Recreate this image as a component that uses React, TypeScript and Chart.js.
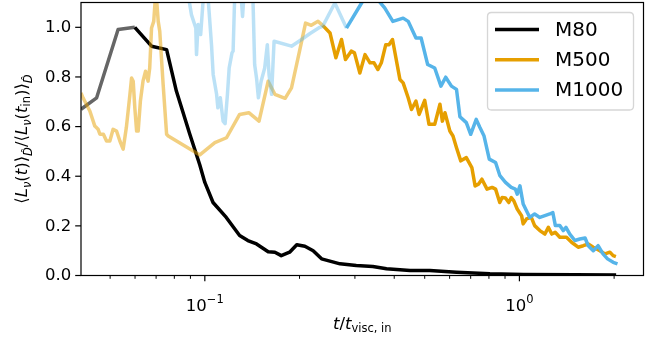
import React, { useEffect, useRef } from 'react';
import { Chart, registerables } from 'chart.js';
Chart.register(...registerables);

// ---------- data ----------
const m80T = [0.0404, 0.0453, 0.053, 0.0599, 0.0677, 0.0756, 0.0812, 0.0896, 0.0964, 0.1, 0.1062, 0.117, 0.129, 0.137, 0.146, 0.159, 0.167, 0.175, 0.186, 0.196, 0.208, 0.221, 0.235, 0.269, 0.303, 0.342, 0.378, 0.449, 0.519, 0.631, 0.806, 1.03, 1.5, 2.03];
const m80L = [0.67, 0.716, 0.991, 1.0, 0.924, 0.91, 0.743, 0.569, 0.445, 0.375, 0.294, 0.234, 0.161, 0.141, 0.127, 0.096, 0.094, 0.08, 0.094, 0.124, 0.118, 0.1, 0.067, 0.047, 0.04, 0.036, 0.027, 0.02, 0.02, 0.013, 0.007, 0.004, 0.003, 0.002];

const m500T = [0.0404, 0.041, 0.0431, 0.0447, 0.0458, 0.0464, 0.0476, 0.0487, 0.0499, 0.0511, 0.0524, 0.0537, 0.055, 0.0563, 0.0578, 0.0585, 0.0592, 0.0599, 0.0607, 0.0614, 0.0624, 0.0636, 0.0648, 0.066, 0.0668, 0.0677, 0.0688, 0.0699, 0.0711, 0.0719, 0.0737, 0.0756, 0.0765, 0.0964, 0.1076, 0.1172, 0.129, 0.138, 0.1487, 0.159, 0.167, 0.18, 0.1886, 0.2, 0.209, 0.218, 0.229, 0.237, 0.25, 0.261, 0.272, 0.28, 0.292, 0.299, 0.311, 0.323, 0.335, 0.345, 0.355, 0.364, 0.376, 0.385, 0.395, 0.417, 0.427, 0.443, 0.454, 0.469, 0.48, 0.5, 0.516, 0.538, 0.559, 0.569, 0.58, 0.601, 0.615, 0.631, 0.651, 0.678, 0.706, 0.723, 0.741, 0.76, 0.789, 0.819, 0.84, 0.866, 0.881, 0.903, 0.925, 0.942, 0.96, 0.984, 1.016, 1.028, 1.053, 1.091, 1.118, 1.161, 1.205, 1.236, 1.267, 1.299, 1.344, 1.411, 1.465, 1.537, 1.596, 1.655, 1.717, 1.802, 1.871, 1.939, 1.986, 2.026];
const m500L = [0.736, 0.716, 0.663, 0.602, 0.589, 0.569, 0.569, 0.542, 0.542, 0.589, 0.582, 0.542, 0.509, 0.596, 0.73, 0.796, 0.783, 0.676, 0.582, 0.582, 0.703, 0.783, 0.823, 0.783, 0.836, 0.997, 1.024, 1.15, 1.024, 0.984, 0.77, 0.569, 0.562, 0.486, 0.535, 0.555, 0.649, 0.656, 0.622, 0.783, 0.73, 0.714, 0.756, 0.904, 1.017, 1.008, 1.024, 1.008, 0.977, 0.877, 0.951, 0.87, 0.904, 0.897, 0.816, 0.89, 0.857, 0.857, 0.83, 0.857, 0.93, 0.93, 0.951, 0.79, 0.776, 0.716, 0.669, 0.703, 0.649, 0.706, 0.609, 0.609, 0.69, 0.622, 0.656, 0.582, 0.562, 0.515, 0.462, 0.475, 0.435, 0.361, 0.368, 0.388, 0.348, 0.355, 0.348, 0.294, 0.314, 0.312, 0.294, 0.314, 0.301, 0.268, 0.241, 0.208, 0.228, 0.234, 0.201, 0.181, 0.167, 0.194, 0.167, 0.174, 0.154, 0.154, 0.134, 0.114, 0.12, 0.127, 0.114, 0.1, 0.087, 0.094, 0.08, 0.076];

const m1000T = [0.088, 0.0907, 0.0936, 0.0941, 0.0952, 0.097, 0.0993, 0.102, 0.105, 0.1063, 0.109, 0.11, 0.112, 0.1143, 0.116, 0.118, 0.1195, 0.122, 0.123, 0.1246, 0.13, 0.1318, 0.1335, 0.142, 0.144, 0.146, 0.148, 0.151, 0.155, 0.158, 0.16, 0.163, 0.166, 0.1886, 0.203, 0.216, 0.232, 0.237, 0.259, 0.282, 0.315, 0.33, 0.35, 0.373, 0.396, 0.427, 0.443, 0.469, 0.487, 0.511, 0.538, 0.563, 0.583, 0.608, 0.631, 0.647, 0.678, 0.7, 0.729, 0.749, 0.772, 0.802, 0.84, 0.867, 0.903, 0.942, 0.971, 0.984, 1.004, 1.028, 1.053, 1.079, 1.118, 1.161, 1.205, 1.249, 1.277, 1.301, 1.344, 1.378, 1.406, 1.446, 1.501, 1.556, 1.617, 1.655, 1.717, 1.779, 1.844, 1.906, 1.986, 2.05];
const m1000L = [1.15, 1.05, 0.997, 0.89, 1.011, 0.971, 1.15, 1.15, 0.93, 0.81, 0.73, 0.676, 0.716, 0.622, 0.612, 0.73, 0.836, 0.897, 0.904, 1.15, 1.15, 1.044, 1.15, 1.15, 0.85, 0.796, 0.716, 0.783, 0.836, 0.93, 0.81, 0.73, 0.944, 0.924, 0.951, 0.975, 1.0, 1.004, 1.098, 0.997, 1.098, 1.13, 1.12, 1.078, 1.024, 1.037, 1.024, 0.957, 0.957, 0.85, 0.836, 0.763, 0.799, 0.763, 0.75, 0.64, 0.616, 0.569, 0.629, 0.596, 0.562, 0.469, 0.455, 0.402, 0.375, 0.355, 0.348, 0.328, 0.361, 0.288, 0.261, 0.234, 0.248, 0.234, 0.241, 0.248, 0.254, 0.201, 0.201, 0.181, 0.194, 0.167, 0.141, 0.147, 0.151, 0.12, 0.1, 0.12, 0.087, 0.067, 0.053, 0.047];

const seriesLabels = ['M80', 'M500', 'M1000'];
const m80FadeUntil = 0.0599;
const m500FadeUntil = 0.237;
const m1000FadeUntil = 0.282;

const yTicks = [0, 0.2, 0.4, 0.6, 0.8, 1.0];
const yTickLabels = ['0.0', '0.2', '0.4', '0.6', '0.8', '1.0'];
const xMajorTicks = [0.1, 1];
const xMajorExponents = ['\u22121', '0'];
const xMinorTicks = [0.05, 0.06, 0.07, 0.08, 0.09, 0.2, 0.3, 0.4, 0.5, 0.6, 0.7, 0.8, 0.9, 2];

// ---------- styles ----------
const FONT = '"DejaVu Sans", sans-serif';
const colors = ['#000000', '#E69F00', '#56B4E9'];
const faded = ['rgba(0,0,0,0.6)', 'rgba(230,159,0,0.5)', 'rgba(86,180,233,0.4)'];
const LW = 3.5;

type Seg = { s: string; it?: boolean; sz: number; dy: number };

function segFont(g: Seg) {
  return `${g.it ? 'italic ' : ''}${g.sz}px ${FONT}`;
}
function richWidth(ctx: CanvasRenderingContext2D, segs: Seg[]) {
  let w = 0;
  segs.forEach((g) => {
    ctx.font = segFont(g);
    w += ctx.measureText(g.s).width;
  });
  return w;
}
function drawRich(ctx: CanvasRenderingContext2D, segs: Seg[], cx: number, y: number) {
  const total = richWidth(ctx, segs);
  let x = cx - total / 2;
  ctx.textAlign = 'left';
  ctx.textBaseline = 'alphabetic';
  segs.forEach((g) => {
    ctx.font = segFont(g);
    ctx.fillText(g.s, x, y + g.dy);
    x += ctx.measureText(g.s).width;
  });
}

const M = 16.5;
const S = 11.5;
const SUB = 3.8;

const yTitle: Seg[] = [
  { s: '\u27E8', sz: M, dy: 0 },
  { s: 'L', it: true, sz: M, dy: 0 },
  { s: '\u03BD', it: true, sz: S, dy: SUB },
  { s: '(', sz: M, dy: 0 },
  { s: 't', it: true, sz: M, dy: 0 },
  { s: ')', sz: M, dy: 0 },
  { s: '\u27E9', sz: M, dy: 0 },
  { s: 'D\u0302', it: true, sz: S, dy: SUB + 1.5 },
  { s: '/', sz: M, dy: 0 },
  { s: '\u27E8', sz: M, dy: 0 },
  { s: 'L', it: true, sz: M, dy: 0 },
  { s: '\u03BD', it: true, sz: S, dy: SUB },
  { s: '(', sz: M, dy: 0 },
  { s: 't', it: true, sz: M, dy: 0 },
  { s: 'in', sz: S, dy: SUB - 0.5 },
  { s: ')', sz: M, dy: 0 },
  { s: '\u27E9', sz: M, dy: 0 },
  { s: 'D\u0302', it: true, sz: S, dy: SUB + 1.5 },
];

const xTitle: Seg[] = [
  { s: 't', it: true, sz: M, dy: 0 },
  { s: '/', sz: M, dy: 0 },
  { s: 't', it: true, sz: M, dy: 0 },
  { s: 'visc, in', sz: S, dy: SUB },
];

const decor = {
  id: 'decor',
  afterDraw(chart: any) {
    const ctx: CanvasRenderingContext2D = chart.ctx;
    const a = chart.chartArea;
    const xs = chart.scales.x;
    const ys = chart.scales.y;
    ctx.save();
    ctx.fillStyle = '#000';
    ctx.strokeStyle = '#000';
    ctx.lineCap = 'butt';

    // spines
    ctx.lineWidth = 1.2;
    ctx.strokeRect(a.left, a.top, a.right - a.left, a.bottom - a.top);

    // y ticks
    ctx.font = `${M}px ${FONT}`;
    ctx.textAlign = 'right';
    ctx.textBaseline = 'middle';
    yTicks.forEach((v, i) => {
      const py = ys.getPixelForValue(v);
      ctx.beginPath();
      ctx.moveTo(a.left - 5.8, py);
      ctx.lineTo(a.left, py);
      ctx.stroke();
      ctx.fillText(yTickLabels[i], a.left - 9.8, py + 0.5);
    });

    // x ticks
    xMajorTicks.forEach((v, i) => {
      const px = xs.getPixelForValue(v);
      ctx.lineWidth = 1.2;
      ctx.beginPath();
      ctx.moveTo(px, a.bottom);
      ctx.lineTo(px, a.bottom + 5.8);
      ctx.stroke();
      const segs: Seg[] = [
        { s: '10', sz: M, dy: 0 },
        { s: xMajorExponents[i], sz: S, dy: -7.5 },
      ];
      drawRich(ctx, segs, px, a.bottom + 35);
    });
    xMinorTicks.forEach((v) => {
      const px = xs.getPixelForValue(v);
      ctx.lineWidth = 1.0;
      ctx.beginPath();
      ctx.moveTo(px, a.bottom);
      ctx.lineTo(px, a.bottom + 3.3);
      ctx.stroke();
    });

    // x title
    drawRich(ctx, xTitle, (a.left + a.right) / 2, a.bottom + 53);

    // y title
    ctx.save();
    ctx.translate(27, (a.top + a.bottom) / 2);
    ctx.rotate(-Math.PI / 2);
    drawRich(ctx, yTitle, 0, 0);
    ctx.restore();

    // legend
    const bx = 487.5, by = 12.5, bw = 146, bh = 97.5, r = 4;
    ctx.beginPath();
    ctx.moveTo(bx + r, by);
    ctx.lineTo(bx + bw - r, by);
    ctx.quadraticCurveTo(bx + bw, by, bx + bw, by + r);
    ctx.lineTo(bx + bw, by + bh - r);
    ctx.quadraticCurveTo(bx + bw, by + bh, bx + bw - r, by + bh);
    ctx.lineTo(bx + r, by + bh);
    ctx.quadraticCurveTo(bx, by + bh, bx, by + bh - r);
    ctx.lineTo(bx, by + r);
    ctx.quadraticCurveTo(bx, by, bx + r, by);
    ctx.closePath();
    ctx.fillStyle = 'rgba(255,255,255,0.8)';
    ctx.fill();
    ctx.strokeStyle = 'rgba(204,204,204,0.8)';
    ctx.lineWidth = 1.3;
    ctx.stroke();

    ctx.font = `20px ${FONT}`;
    ctx.textAlign = 'left';
    ctx.textBaseline = 'middle';
    seriesLabels.forEach((lab, i) => {
      const ly = 29.5 + i * 30.2;
      ctx.strokeStyle = colors[i];
      ctx.lineWidth = LW;
      ctx.beginPath();
      ctx.moveTo(495, ly);
      ctx.lineTo(539, ly);
      ctx.stroke();
      ctx.fillStyle = '#000';
      ctx.fillText(lab, 555, ly + 1);
    });

    ctx.restore();
  },
};

function makeDataset(i: number, ts: number[], ls: number[], fadeUntil: number) {
  return {
    label: seriesLabels[i],
    data: ts.map((t, k) => ({ x: t, y: ls[k] })),
    borderColor: colors[i],
    borderWidth: LW,
    borderJoinStyle: 'round' as const,
    borderCapStyle: 'butt' as const,
    pointRadius: 0,
    fill: false,
    tension: 0,
    clip: 0,
    order: 2 - i,
    segment: {
      borderColor: (c: any) => (c.p1.parsed.x <= fadeUntil ? faded[i] : colors[i]),
    },
  };
}

export default function App() {
  const ref = useRef<HTMLCanvasElement | null>(null);
  useEffect(() => {
    if (!ref.current) return;
    const chart = new Chart(ref.current, {
      type: 'line',
      data: {
        datasets: [
          makeDataset(0, m80T, m80L, m80FadeUntil),
          makeDataset(1, m500T, m500L, m500FadeUntil),
          makeDataset(2, m1000T, m1000L, m1000FadeUntil),
        ] as any,
      },
      options: {
        animation: false,
        responsive: false,
        maintainAspectRatio: false,
        devicePixelRatio: 1,
        layout: { padding: { left: 81, right: 13.5, top: 2.5, bottom: 62.5 } },
        scales: {
          x: { type: 'logarithmic', min: 0.0404, max: 2.48, display: false },
          y: { type: 'linear', min: 0, max: 1.1, display: false },
        },
        plugins: { legend: { display: false }, tooltip: { enabled: false } },
        elements: { point: { radius: 0 } },
      } as any,
      plugins: [decor],
    });
    return () => chart.destroy();
  }, []);
  return (
    <div style={{ position: 'fixed', left: 0, top: 0, width: 657, height: 338, background: '#fff' }}>
      <canvas ref={ref} width={657} height={338} style={{ display: 'block', width: 657, height: 338 }} />
    </div>
  );
}
